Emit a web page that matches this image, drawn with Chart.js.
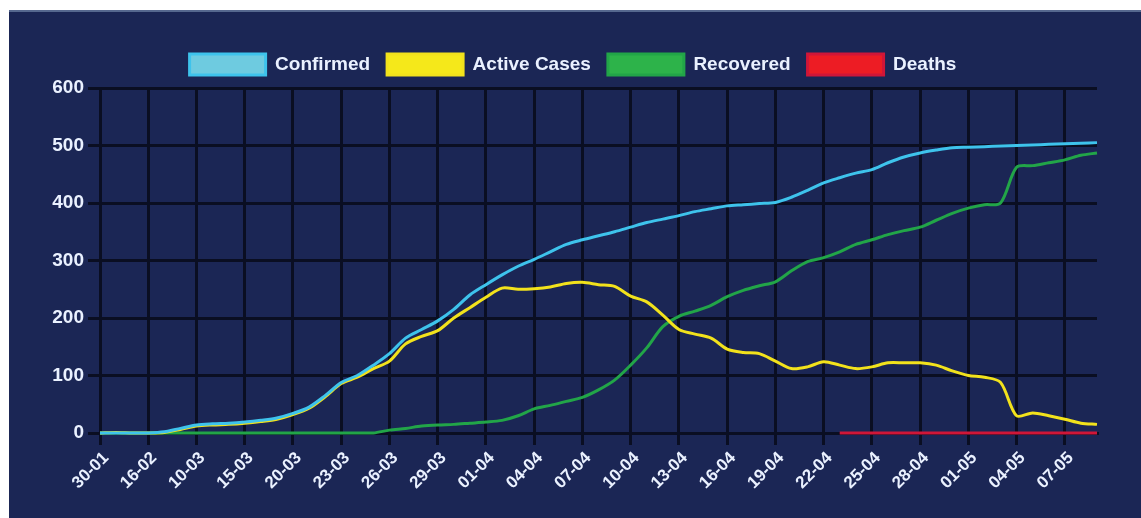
<!DOCTYPE html>
<html>
<head>
<meta charset="utf-8">
<script src="https://cdn.jsdelivr.net/npm/chart.js@4.4.1/dist/chart.umd.min.js"></script>
<style>
    html, body { margin: 0; padding: 0; background: #ffffff; }
    #wrap {
        position: absolute;
        left: 9px; top: 10px;
        width: 1132px; height: 508px;
        background: #1b2655;
        border-top: 2px solid #56688f;
        box-sizing: border-box;
    }
    #wrap canvas { display: block; }
</style>
</head>
<body>
<div id="wrap"><canvas id="covidChart" width="1132" height="506"></canvas></div>
<script>
// dates (category per point) and the labels that are actually shown
const dates = [
    '30-01', '04-02', '10-02', '16-02', '25-02', '06-03', '10-03', '12-03', '13-03', '15-03',
    '17-03', '18-03', '20-03', '21-03', '22-03', '23-03', '24-03', '25-03', '26-03', '27-03',
    '28-03', '29-03', '30-03', '31-03', '01-04', '02-04', '03-04', '04-04', '05-04', '06-04',
    '07-04', '08-04', '09-04', '10-04', '11-04', '12-04', '13-04', '14-04', '15-04', '16-04',
    '17-04', '18-04', '19-04', '20-04', '21-04', '22-04', '23-04', '24-04', '25-04', '26-04',
    '27-04', '28-04', '29-04', '30-04', '01-05', '02-05', '03-05', '04-05', '05-05', '06-05',
    '07-05', '08-05', '09-05'
];
const tickLabels = [
    '30-01', '16-02', '10-03', '15-03', '20-03', '23-03', '26-03', '29-03', '01-04', '04-04',
    '07-04', '10-04', '13-04', '16-04', '19-04', '22-04', '25-04', '28-04', '01-05', '04-05', '07-05'
];
const yTicks = [0, 100, 200, 300, 400, 500, 600];

// series
const confirmed = [
    0, 0, 0, 0, 2, 8, 14, 16, 17, 19,
    22, 26, 34, 45, 65, 88, 100, 118, 138, 165,
    180, 195, 215, 240, 258, 275, 290, 302, 315, 328,
    336, 343, 350, 358, 366, 372, 378, 385, 390, 395,
    397, 399, 401, 410, 422, 435, 444, 452, 458, 470,
    480, 487, 492, 496, 497, 498, 499, 500, 501, 502,
    503, 504, 505
];
const active = [
    0, 1, 0, 0, 1, 6, 12, 14, 15, 17,
    20, 24, 32, 43, 63, 86, 97, 112, 125, 155,
    168, 178, 200, 218, 236, 252, 250, 251, 254, 260,
    262, 258, 255, 238, 228, 205, 180, 172, 165, 146,
    140, 138, 125, 112, 115, 124, 118, 112, 115, 122,
    122, 122, 118, 108, 100, 97, 88, 30, 35, 30,
    24, 17, 15
];
const recovered = [
    0, 0, 0, 0, 0, 0, 0, 0, 0, 0,
    0, 0, 0, 0, 0, 0, 0, 0, 5, 8,
    12, 14, 15, 17, 19, 22, 30, 42, 48, 55,
    62, 75, 92, 118, 148, 185, 203, 212, 222, 237,
    248, 256, 263, 282, 298, 305, 315, 328, 336, 345,
    352, 358, 370, 382, 391, 397, 400, 462, 465, 470,
    475, 483, 487
];
const deaths = [
    null, null, null, null, null, null, null, null, null, null,
    null, null, null, null, null, null, null, null, null, null,
    null, null, null, null, null, null, null, null, null, null,
    null, null, null, null, null, null, null, null, null, null,
    null, null, null, null, null, null, 0, 0, 0, 0,
    0, 0, 0, 0, 0, 0, 0, 0, 0, 0,
    0, 0, 0
];

const textColor = '#eaf1ff';
const gridColor = '#0a0e22';
const fontFamily = '"Liberation Sans", Arial, sans-serif';

// wanted chart area inside the canvas
const areaTop = 76, areaLeft = 91, areaBottom = 421, padTop = 25, padLeft = 40;

function series(label, data, color, boxColor) {
    return {
        label: label,
        data: data,
        borderColor: color,
        backgroundColor: boxColor,
        borderWidth: 3,
        pointRadius: 0,
        tension: 0.3,
        fill: false,
        clip: false
    };
}

// make the legend block a fixed height
const legendHeight = {
    id: 'legendHeight',
    beforeLayout(chart) {
        const lg = chart.legend;
        if (lg && !lg._patched) {
            const fit = lg.fit;
            lg.fit = function() {
                fit.call(this);
                this.height = areaTop - padTop;
            };
            lg._patched = true;
        }
    }
};

const ctx = document.getElementById('covidChart');
new Chart(ctx, {
    type: 'line',
    data: {
        labels: dates,
        datasets: [
            series('Confirmed', confirmed, '#3ec3ec', '#6ecbe0'),
            series('Active Cases', active, '#f2e21c', '#f5e81a'),
            series('Recovered', recovered, '#22a548', '#2db34a'),
            series('Deaths', deaths, '#d01638', '#ed1c24')
        ]
    },
    plugins: [legendHeight],
    options: {
        responsive: false,
        animation: false,
        layout: { padding: { left: padLeft, right: 44, top: padTop, bottom: 0 } },
        plugins: {
            legend: {
                position: 'top',
                labels: {
                    color: textColor,
                    boxWidth: 76,
                    boxHeight: 21,
                    padding: 17,
                    font: { family: fontFamily, size: 19, weight: 'bold' }
                }
            },
            tooltip: { enabled: false }
        },
        scales: {
            x: {
                afterFit: s => { s.height = 506 - areaBottom; },
                grid: { color: gridColor, lineWidth: 3, tickLength: 12 },
                border: { color: gridColor, width: 3 },
                ticks: {
                    autoSkip: false,
                    maxRotation: 45,
                    minRotation: 45,
                    labelOffset: 6,
                    color: textColor,
                    font: { family: fontFamily, size: 17, weight: 'bold' },
                    callback: function(value) {
                        const lbl = this.getLabelForValue(value);
                        return tickLabels.includes(lbl) ? lbl : null;
                    }
                }
            },
            y: {
                afterFit: s => { s.width = areaLeft - padLeft; },
                min: yTicks[0],
                max: yTicks[yTicks.length - 1],
                grid: { color: gridColor, lineWidth: 3, tickLength: 12 },
                border: { display: false },
                ticks: {
                    stepSize: 100,
                    color: textColor,
                    padding: 4,
                    font: { family: fontFamily, size: 19, weight: 'bold' }
                }
            }
        }
    }
});
</script>
</body>
</html>
